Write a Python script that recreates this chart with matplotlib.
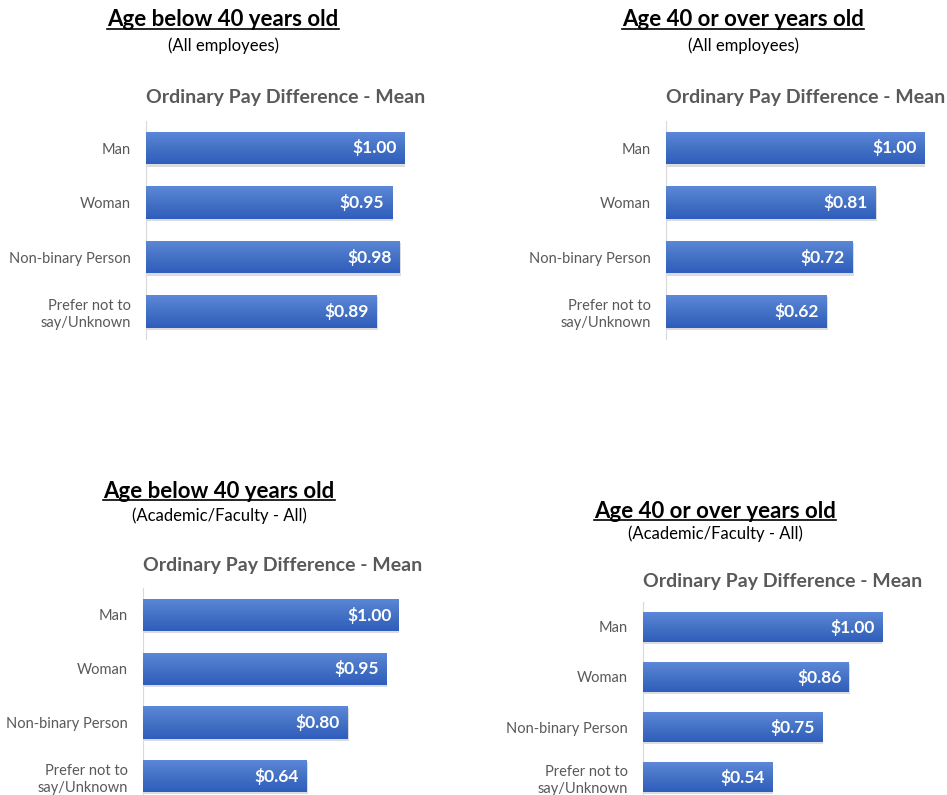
import numpy as np
import matplotlib.pyplot as plt
from matplotlib.colors import LinearSegmentedColormap
from matplotlib.lines import Line2D

plt.rcParams['font.family'] = ['Lato', 'DejaVu Sans']

categories = ["Man", "Woman", "Non-binary Person", "Prefer not to\nsay/Unknown"]
below40_all = [1.00, 0.95, 0.98, 0.89]
over40_all = [1.00, 0.81, 0.72, 0.62]
below40_acad = [1.00, 0.95, 0.80, 0.64]
over40_acad = [1.00, 0.86, 0.75, 0.54]

titles = ["Age below 40 years old", "Age 40 or over years old",
          "Age below 40 years old", "Age 40 or over years old"]
subtitles = ["(All employees)", "(All employees)",
             "(Academic/Faculty - All)", "(Academic/Faculty - All)"]
chart_title = "Ordinary Pay Difference - Mean"

W, H = 947, 795
fig = plt.figure(figsize=(W / 100, H / 100), dpi=100)

grad = LinearSegmentedColormap.from_list("bar", ["#5d88da", "#4472c4", "#2f5dbd"])
gray = "#595959"


def fx(x):
    return x / W


def fy(y):
    return 1 - y / H


# panel layout in pixels: axis x, first bar centre, bar spacing, px for 1.00, title centre x, title y, sub y, chart title y
layout = [
    (146, 148, 54.5, 259, 223, 20, 46, 98),
    (666, 148, 54.5, 259, 743, 20, 46, 98),
    (143, 615, 53.7, 256, 219, 491, 516, 566),
    (643, 627, 50.0, 239, 715, 511, 534, 581),
]
panels = [below40_all, over40_all, below40_acad, over40_acad]

underline_texts = []
for (ax_x, c0, sp, scale, tx, ty, sy, cy), vals, t, st in zip(layout, panels, titles, subtitles):
    top = c0 - sp / 2
    ax = fig.add_axes([fx(ax_x), fy(top + 4 * sp), scale / W, 4 * sp / H])
    y = np.arange(len(categories))
    bars = ax.barh(y, vals, height=0.6, color="#4472c4", zorder=2)
    for b, v in zip(bars, vals):
        x0, y0, w, h = b.get_x(), b.get_y(), b.get_width(), b.get_height()
        # soft shadow
        ax.add_patch(plt.Rectangle((x0 + 0.005, y0 + 0.04), w, h, color="#8c8c8c",
                                   alpha=0.3, zorder=1, lw=0))
        img = ax.imshow(np.linspace(0, 1, 50).reshape(-1, 1), cmap=grad, aspect="auto",
                        extent=(x0, x0 + w, y0 + h, y0), zorder=3)
        img.set_clip_path(b)
        ax.text(v - 0.03, b.get_y() + h / 2, f"${v:.2f}", color="white", fontsize=12.5,
                fontweight="bold", ha="right", va="center", zorder=4)
    ax.set_xlim(0, 1.0)
    ax.set_ylim(3.5, -0.5)
    ax.set_yticks(y)
    ax.set_yticklabels(categories, fontsize=10.5, color=gray)
    for lab in ax.get_yticklabels():
        lab.set_multialignment("right")
        lab.set_linespacing(1.3)
    ax.tick_params(axis="y", length=0, pad=11)
    ax.set_xticks([])
    for s in ["top", "right", "bottom"]:
        ax.spines[s].set_visible(False)
    ax.spines["left"].set_color("#d9d9d9")
    ax.set_facecolor("none")

    fig.text(fx(ax_x), fy(cy), chart_title, fontsize=14, fontweight="bold", color=gray,
             ha="left", va="center")
    tt = fig.text(fx(tx), fy(ty), t, fontsize=16, fontweight="bold", color="black",
                  ha="center", va="center")
    underline_texts.append(tt)
    fig.text(fx(tx), fy(sy), st, fontsize=12, color="black", ha="center", va="center")

# underline the panel titles
fig.canvas.draw()
r = fig.canvas.get_renderer()
for tt in underline_texts:
    bb = tt.get_window_extent(r).transformed(fig.transFigure.inverted())
    yy = bb.y0 + 0.002
    fig.add_artist(Line2D([bb.x0, bb.x1], [yy, yy], color="black", lw=1.2,
                          transform=fig.transFigure))

fig.savefig("out.png", dpi=100)
